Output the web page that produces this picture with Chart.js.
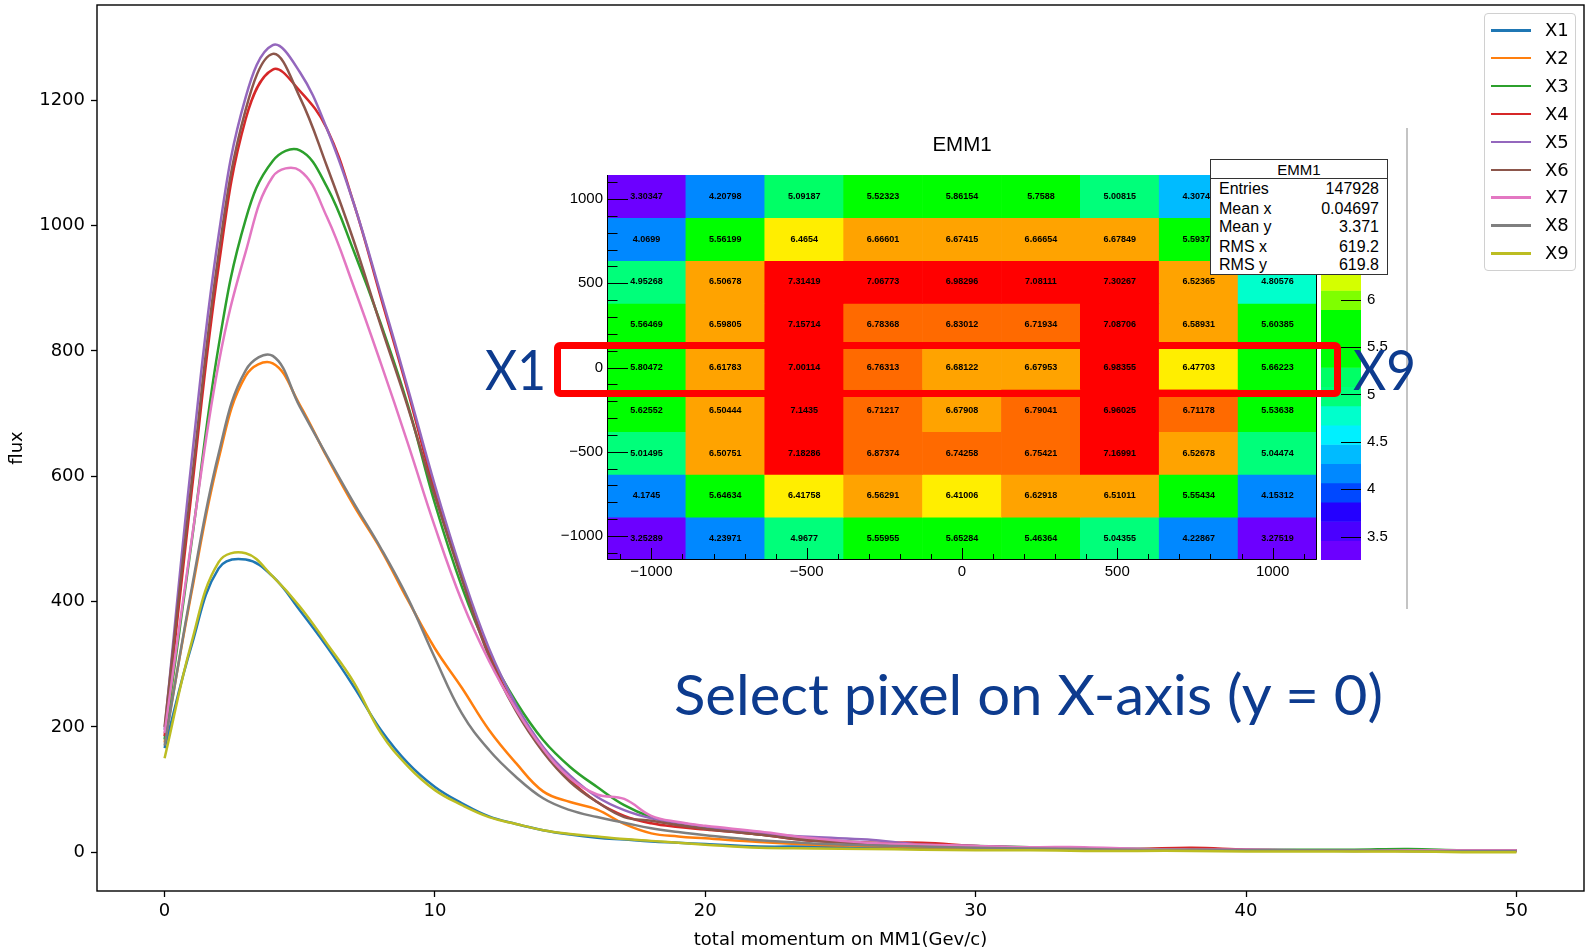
<!DOCTYPE html>
<html>
<head>
<meta charset="utf-8">
<script src="https://cdn.jsdelivr.net/npm/chart.js@4.4.1/dist/chart.umd.min.js"></script>
<style>
html,body{margin:0;padding:0;background:#fff;}
#wrap{position:relative;width:1585px;height:951px;overflow:hidden;background:#fff;}
canvas{position:absolute;}
.abs{position:absolute;white-space:nowrap;}
#stats{position:absolute;left:1210px;top:159px;width:178px;height:116px;box-sizing:border-box;border:1px solid #333;background:#fff;font-family:"Liberation Sans",Arial,sans-serif;color:#000;}
#stats .title{position:absolute;left:0;right:0;top:0;height:18px;border-bottom:1px solid #333;text-align:center;font-size:15px;line-height:19px;}
#stats .row{position:absolute;left:8px;right:8px;height:18px;font-size:16px;line-height:18px;}
#stats .row span.v{position:absolute;right:0;}
#legend{position:absolute;left:1484px;top:13px;width:92px;height:258px;box-sizing:border-box;border:1px solid #d0d0d0;border-radius:4px;background:rgba(255,255,255,0.8);font-family:"DejaVu Sans",sans-serif;font-size:18px;color:#000;}
#legend .item{position:absolute;left:0;height:20px;}
#legend .sw{position:absolute;left:6px;top:9px;width:40px;height:2.5px;}
#legend .lb{position:absolute;left:60px;top:0;line-height:20px;}
.anno{position:absolute;font-family:Lato,"Open Sans",sans-serif;font-size:56px;line-height:56px;color:#0d3b8e;transform-origin:0 0;white-space:nowrap;}
</style>
</head>
<body>
<div id="wrap">
  <canvas id="main" width="1585" height="951" style="left:0;top:0;width:1585px;height:951px"></canvas>
  <canvas id="heat" width="790" height="460" style="left:540px;top:130px;width:790px;height:460px"></canvas>
  <canvas id="cbar" width="80" height="400" style="left:1318px;top:170px;width:80px;height:400px"></canvas>
  <div class="abs" id="heatTitle" style="left:962px;top:134px;transform:translateX(-50%);font-family:'Liberation Sans',Arial,sans-serif;font-size:20.5px;line-height:20.5px;color:#000">EMM1</div>
  <div id="stats">
    <div class="title">EMM1</div>
    <div class="row" style="top:20px"><span>Entries</span><span class="v">147928</span></div>
    <div class="row" style="top:40px"><span>Mean x</span><span class="v">0.04697</span></div>
    <div class="row" style="top:58px"><span>Mean y</span><span class="v">3.371</span></div>
    <div class="row" style="top:78px"><span>RMS x</span><span class="v">619.2</span></div>
    <div class="row" style="top:96px"><span>RMS y</span><span class="v">619.8</span></div>
  </div>
  <div class="abs" style="left:1406px;top:128px;width:1.5px;height:481px;background:#c4c4c4"></div>
  <div class="abs" style="left:554px;top:342px;width:787px;height:55px;box-sizing:border-box;border:7.7px solid #ff0000;border-radius:6px"></div>
  <div class="anno" id="annoX1" data-w="61" style="left:485px;top:341px">X1</div>
  <div class="anno" id="annoX9" data-w="63" style="left:1353px;top:341px">X9</div>
  <div class="anno" id="annoSel" data-w="709" style="left:674px;top:666px">Select pixel on X-axis (y = 0)</div>
  <div id="legend"></div>
</div>
<script>
// ---------------- main line chart data ----------------
const seriesNames = ['X1','X2','X3','X4','X5','X6','X7','X8','X9'];
const seriesColors = ['#1f77b4','#ff7f0e','#2ca02c','#d62728','#9467bd','#8c564b','#e377c2','#7f7f7f','#bcbd22'];
const momentum = [0,1,2,3,4,5,6,7,8,9,10,11,12,13,14,15,16,17,18,19,20,22,24,26,28,30,32,34,36,38,40,42,44,46,48,50];
const fluxX1 = [166,330,453,467,440,386,328,264,195,142,104,78,57,45,35,28,23,20,17,15,13, 9,9,7,6,5,4,4,3,3,3,3,2,3,2,2];
const fluxX2 = [175,415,628,760,780,714,631,553,483,402,325,262,195,142,97,80,68,45,30,25,22, 16,12,10,8,7,6,5,4,4,3,3,2,2,2,2];
const fluxX3 = [180,495,808,1010,1103,1120,1062,959,843,713,556,423,318,240,179,136,104,75,56,46,39, 28,20,15,12,10,8,6,5,5,4,4,4,5,3,2];
const fluxX4 = [185,575,935,1170,1249,1215,1155,1035,885,735,575,440,315,228,163,115,80,58,46,40,36, 28,18,15,15,10,7,5,5,7,4,3,3,3,3,3];
const fluxX5 = [195,625,985,1205,1288,1245,1155,1035,890,740,585,445,325,235,168,122,88,67,54,47,41, 30,24,20,12,10,7,6,5,4,4,3,3,3,3,3];
const fluxX6 = [200,590,955,1185,1274,1205,1095,975,840,710,568,435,312,225,160,112,80,56,50,43,37, 28,18,14,12,9,7,5,4,4,3,3,3,2,2,2];
const fluxX7 = [190,498,780,958,1078,1088,1014,902,780,652,519,400,305,228,165,118,92,85,58,48,42, 33,22,15,12,10,8,8,5,4,4,3,3,3,3,3];
const fluxX8 = [170,420,636,769,792,711,633,557,485,405,310,221,163,120,86,67,56,47,38,32,27, 19,14,11,9,7,6,5,4,4,3,3,3,2,2,2];
const fluxX9 = [150,335,463,477,440,392,333,271,190,137,99,75,56,45,35,29,25,21,18,15,12, 7,6,5,4,3,3,2,2,2,1,1,1,1,0,0];
const fluxSeries = [fluxX1,fluxX2,fluxX3,fluxX4,fluxX5,fluxX6,fluxX7,fluxX8,fluxX9];
const mainXTicks = [0,10,20,30,40,50];
const mainYTicks = [0,200,400,600,800,1000,1200];

// ---------------- EMM1 inset data ----------------
const emm1XBins = 9, emm1XMin = -1143, emm1XMax = 1143;
const emm1YBins = 9, emm1YMin = -1143, emm1YMax = 1143;
const emm1Row1 = [3.30347,4.20798,5.09187,5.52323,5.86154,5.7588,5.00815,4.30742,3.29];
const emm1Row2 = [4.0699,5.56199,6.4654,6.66601,6.67415,6.66654,6.67849,5.59374,4.12];
const emm1Row3 = [4.95268,6.50678,7.31419,7.06773,6.98296,7.08111,7.30267,6.52365,4.80576];
const emm1Row4 = [5.56469,6.59805,7.15714,6.78368,6.83012,6.71934,7.08706,6.58931,5.60385];
const emm1Row5 = [5.80472,6.61783,7.00114,6.76313,6.68122,6.67953,6.98355,6.47703,5.66223];
const emm1Row6 = [5.62552,6.50444,7.1435,6.71217,6.67908,6.79041,6.96025,6.71178,5.53638];
const emm1Row7 = [5.01495,6.50751,7.18286,6.87374,6.74258,6.75421,7.16991,6.52678,5.04474];
const emm1Row8 = [4.1745,5.64634,6.41758,6.56291,6.41006,6.62918,6.51011,5.55434,4.15312];
const emm1Row9 = [3.25289,4.23971,4.9677,5.55955,5.65284,5.46364,5.04355,4.22867,3.27519];
const emm1Rows = [emm1Row1,emm1Row2,emm1Row3,emm1Row4,emm1Row5,emm1Row6,emm1Row7,emm1Row8,emm1Row9]; // top to bottom
const emm1Ticks = [-1000,-500,0,500,1000];
const zMin = 3.25289, zMax = 7.31419, zBands = 20;
const zTicks = [3.5,4,4.5,5,5.5,6,6.5,7];
const paletteColors = ['#6c00ff','#4a00ff','#2400ff','#0048ff','#0088ff','#00bbff','#00f0ff','#00ffcc','#00ff7a','#00ff66',
                       '#00ff08','#00ff00','#00ff00','#7fff00','#d4ff00','#ffee00','#ffa300','#ff6a00','#ff0000','#ff0000'];

// ---------------- helpers ----------------
const bandW = (zMax - zMin) / zBands;
function paletteColor(v){
  let i = Math.floor((v - zMin) / bandW);
  i = Math.max(0, Math.min(zBands - 1, i));
  return paletteColors[i];
}
const cellW = (emm1XMax - emm1XMin) / emm1XBins;
const cellH = (emm1YMax - emm1YMin) / emm1YBins;
const cellCX = c => emm1XMin + (c + 0.5) * cellW;
const cellCY = r => emm1YMax - (r + 0.5) * cellH;
const minusFmt = v => String(v).replace('-', '\u2212');
const plainFmt = v => String(v);
const noPadV = s => { s.paddingTop = 0; s.paddingBottom = 0; };
const noPadH = s => { s.paddingLeft = 0; s.paddingRight = 0; };

// ---------------- main chart ----------------
const framePlugin = {
  id: 'frame',
  afterDatasetsDraw(chart){
    const {ctx, chartArea:a} = chart;
    ctx.save();
    ctx.strokeStyle = '#000';
    ctx.lineWidth = 1.4;
    ctx.strokeRect(a.left, a.top, a.right - a.left, a.bottom - a.top);
    ctx.restore();
  }
};
const dejavu = '"DejaVu Sans", sans-serif';
new Chart(document.getElementById('main'), {
  type: 'line',
  data: {
    datasets: fluxSeries.map((ys, i) => ({
      label: seriesNames[i],
      data: momentum.map((x, k) => ({x: x, y: ys[k]})),
      borderColor: seriesColors[i],
      backgroundColor: seriesColors[i],
      borderWidth: 2.5,
      pointRadius: 0,
      tension: 0.4,
      fill: false,
      order: 8 - i
    }))
  },
  options: {
    responsive: false, animation: false, devicePixelRatio: 1, events: [],
    layout: {padding: {left: 0, top: 5, right: 1, bottom: 0}},
    plugins: {legend: {display: false}, tooltip: {enabled: false}},
    scales: {
      x: {
        type: 'linear', min: -2.5, max: 52.5,
        afterBuildTicks: s => { s.ticks = mainXTicks.map(v => ({value: v})); },
        afterFit: s => { s.height = 60; noPadH(s); },
        border: {display: false},
        grid: {drawOnChartArea: false, drawTicks: true, tickLength: 6, tickWidth: 1.3, tickColor: '#000'},
        ticks: {color: '#000', font: {family: dejavu, size: 18}, padding: 4, maxRotation: 0, autoSkip: false, callback: plainFmt},
        title: {display: true, text: 'total momentum on MM1(Gev/c)', color: '#000', font: {family: dejavu, size: 18}, padding: {top: 0, bottom: 0}}
      },
      y: {
        type: 'linear', min: -62, max: 1352,
        afterBuildTicks: s => { s.ticks = mainYTicks.map(v => ({value: v})); },
        afterFit: s => { s.width = 97; noPadV(s); },
        border: {display: false},
        grid: {drawOnChartArea: false, drawTicks: true, tickLength: 6, tickWidth: 1.3, tickColor: '#000'},
        ticks: {color: '#000', font: {family: dejavu, size: 18}, padding: 6, autoSkip: false, callback: plainFmt},
        title: {display: true, text: 'flux', color: '#000', font: {family: dejavu, size: 18}, padding: {top: 7, bottom: 0}}
      }
    }
  },
  plugins: [framePlugin]
});

// ---------------- EMM1 heat map ----------------
const helv = '"Liberation Sans", Arial, sans-serif';
const heatDecor = {
  id: 'heatDecor',
  afterDatasetsDraw(chart){
    const {ctx, chartArea:a, scales:{x, y}} = chart;
    ctx.save();
    ctx.fillStyle = '#000';
    ctx.font = 'bold 9px ' + helv;
    ctx.textAlign = 'center';
    ctx.textBaseline = 'middle';
    emm1Rows.forEach((row, r) => row.forEach((v, c) => {
      ctx.fillText(String(v), x.getPixelForValue(cellCX(c)), y.getPixelForValue(cellCY(r)));
    }));
    ctx.strokeStyle = '#000';
    ctx.lineWidth = 1;
    ctx.beginPath();
    ctx.moveTo(a.left + 0.5, a.top);
    ctx.lineTo(a.left + 0.5, a.bottom - 0.5);
    ctx.lineTo(a.right - 0.5, a.bottom - 0.5);
    ctx.lineTo(a.right - 0.5, a.top);
    for (let v = -1100; v <= 1100; v += 100) {
      const major = emm1Ticks.includes(v);
      const px = Math.round(x.getPixelForValue(v)) + 0.5;
      ctx.moveTo(px, a.bottom);
      ctx.lineTo(px, a.bottom - (major ? 12 : 6));
      const py = Math.round(y.getPixelForValue(v)) + 0.5;
      ctx.moveTo(a.left, py);
      ctx.lineTo(a.left + (major ? 21 : 10.5), py);
    }
    ctx.stroke();
    ctx.restore();
  }
};
new Chart(document.getElementById('heat'), {
  type: 'bar',
  data: {
    datasets: emm1Rows.map((row, r) => ({
      data: row.map((v, c) => ({x: cellCX(c), y: [cellCY(r) - cellH / 2, cellCY(r) + cellH / 2]})),
      backgroundColor: row.map(v => paletteColor(v)),
      borderWidth: 0,
      grouped: false,
      barPercentage: 1,
      categoryPercentage: 1
    }))
  },
  options: {
    responsive: false, animation: false, devicePixelRatio: 1, events: [],
    layout: {padding: {left: 0, top: 45, right: 13, bottom: 0}},
    plugins: {legend: {display: false}, tooltip: {enabled: false}},
    scales: {
      x: {
        type: 'linear', min: emm1XMin, max: emm1XMax, offset: false,
        afterBuildTicks: s => { s.ticks = emm1Ticks.map(v => ({value: v})); },
        afterFit: s => { s.height = 30; noPadH(s); },
        border: {display: false},
        grid: {display: false, offset: false, drawTicks: false},
        ticks: {color: '#000', font: {family: helv, size: 15}, padding: 3, maxRotation: 0, autoSkip: false, callback: minusFmt}
      },
      y: {
        type: 'linear', min: emm1YMin, max: emm1YMax, beginAtZero: false,
        afterBuildTicks: s => { s.ticks = emm1Ticks.map(v => ({value: v})); },
        afterFit: s => { s.width = 67; noPadV(s); },
        border: {display: false},
        grid: {display: false, drawTicks: false},
        ticks: {color: '#000', font: {family: helv, size: 15}, padding: 4, autoSkip: false, callback: minusFmt}
      }
    }
  },
  plugins: [heatDecor]
});

// ---------------- colour bar ----------------
const cbarDecor = {
  id: 'cbarDecor',
  afterDatasetsDraw(chart){
    const {ctx, chartArea:a, scales:{y}} = chart;
    ctx.save();
    ctx.strokeStyle = '#000';
    ctx.lineWidth = 1;
    ctx.beginPath();
    zTicks.forEach(v => {
      const py = Math.round(y.getPixelForValue(v)) + 0.5;
      ctx.moveTo(a.right, py);
      ctx.lineTo(a.right - 20, py);
    });
    ctx.stroke();
    ctx.restore();
  }
};
new Chart(document.getElementById('cbar'), {
  type: 'bar',
  data: {
    datasets: [{
      data: paletteColors.map((c, i) => ({x: 0, y: [zMin + i * bandW, zMin + (i + 1) * bandW]})),
      backgroundColor: paletteColors,
      borderWidth: 0,
      grouped: false,
      barPercentage: 1,
      categoryPercentage: 1
    }]
  },
  options: {
    responsive: false, animation: false, devicePixelRatio: 1, events: [],
    layout: {padding: {left: 3, top: 5, right: 0, bottom: 10}},
    plugins: {legend: {display: false}, tooltip: {enabled: false}},
    scales: {
      x: {type: 'linear', min: -0.5, max: 0.5, offset: false, display: false},
      y: {
        type: 'linear', position: 'right', min: zMin, max: zMax, beginAtZero: false,
        afterBuildTicks: s => { s.ticks = zTicks.map(v => ({value: v})); },
        afterFit: s => { s.width = 37; noPadV(s); },
        border: {display: false},
        grid: {display: false, drawTicks: false},
        ticks: {color: '#000', font: {family: helv, size: 15}, padding: 6, autoSkip: false, callback: plainFmt}
      }
    }
  },
  plugins: [cbarDecor]
});

// ---------------- legend ----------------
const legendEl = document.getElementById('legend');
seriesNames.forEach((name, i) => {
  const item = document.createElement('div');
  item.className = 'item';
  item.style.top = (6 + 27.9 * i) + 'px';
  item.innerHTML = '<div class="sw" style="background:' + seriesColors[i] + '"></div><div class="lb">' + name + '</div>';
  legendEl.appendChild(item);
});

// ---------------- annotation widths ----------------
document.querySelectorAll('.anno').forEach(el => {
  const w = el.getBoundingClientRect().width;
  const target = parseFloat(el.dataset.w);
  if (w > 0) el.style.transform = 'scaleX(' + (target / w) + ')';
});
</script>
</body>
</html>
